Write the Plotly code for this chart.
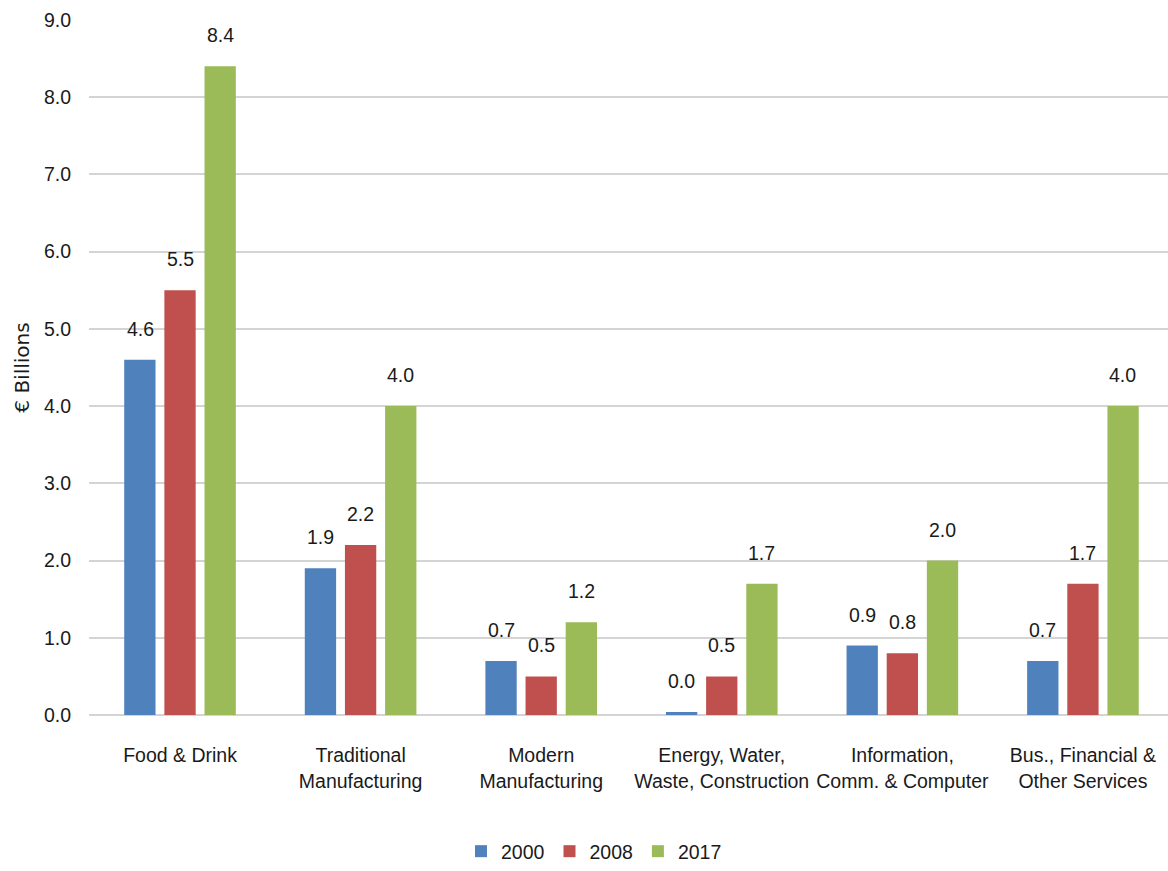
import plotly.graph_objects as go

# Sector labels (x axis) and values in € billions per year
sectors = [
    "Food & Drink",
    "Traditional<br>Manufacturing",
    "Modern<br>Manufacturing",
    "Energy, Water,<br>Waste, Construction",
    "Information,<br>Comm. & Computer",
    "Bus., Financial &<br>Other Services",
]
years = ["2000", "2008", "2017"]
values_2000 = [4.6, 1.9, 0.7, 0.04, 0.9, 0.7]
values_2008 = [5.5, 2.2, 0.5, 0.5, 0.8, 1.7]
values_2017 = [8.4, 4.0, 1.2, 1.7, 2.0, 4.0]
colors = ["#4f81bd", "#c0504d", "#9bbb59"]

y_ticks = [0, 1, 2, 3, 4, 5, 6, 7, 8, 9]

FONT = "Liberation Sans, Arial, sans-serif"
FS = 19.5
TEXT_COLOR = "#1a1a1a"

fig = go.Figure()
series = [values_2000, values_2008, values_2017]
for name, vals, col in zip(years, series, colors):
    fig.add_trace(go.Bar(
        x=sectors, y=vals, name=name,
        marker=dict(color=col, line=dict(width=0)),
    ))

# Value labels above each bar, shifted to sit over its bar in the group
offsets = [-40, 0, 40]
annotations = []
for vals, dx in zip(series, offsets):
    for cat, v in zip(sectors, vals):
        annotations.append(dict(
            x=cat, y=v, xref="x", yref="y", text=f"{v:.1f}",
            showarrow=False, xshift=dx, yshift=31, yanchor="middle",
            font=dict(family=FONT, size=FS, color=TEXT_COLOR),
        ))

fig.update_layout(
    width=1168, height=871,
    margin=dict(l=89, r=0, t=20, b=148),
    paper_bgcolor="white", plot_bgcolor="white",
    barmode="group", bargap=0.333, bargroupgap=0.22,
    annotations=annotations,
    font=dict(family=FONT, size=FS, color=TEXT_COLOR),
    legend=dict(
        orientation="h", x=0.468, xanchor="center", y=-0.197, yanchor="middle",
        font=dict(family=FONT, size=FS, color=TEXT_COLOR),
        itemwidth=30, traceorder="normal",
    ),
    showlegend=True,
)
fig.update_xaxes(
    automargin=False, tickangle=0, range=[-0.504, 5.471],
    showgrid=False, showline=False, zeroline=False,
    ticks="outside", ticklen=23, tickcolor="rgba(0,0,0,0)",
    tickfont=dict(family=FONT, size=FS, color=TEXT_COLOR),
)
fig.update_yaxes(
    automargin=False,
    range=[0, 9], tickvals=y_ticks, tickformat=".1f",
    showgrid=True, gridcolor="#d4d4d4", gridwidth=2,
    zeroline=True, zerolinecolor="#d4d4d4", zerolinewidth=2,
    showline=False,
    ticks="outside", ticklen=13, tickcolor="rgba(0,0,0,0)",
    tickfont=dict(family=FONT, size=FS, color=TEXT_COLOR),
    title=dict(text="€ Billions", font=dict(family="DejaVu Sans", size=20, color=TEXT_COLOR), standoff=8),
)

fig.write_html("out.html")
